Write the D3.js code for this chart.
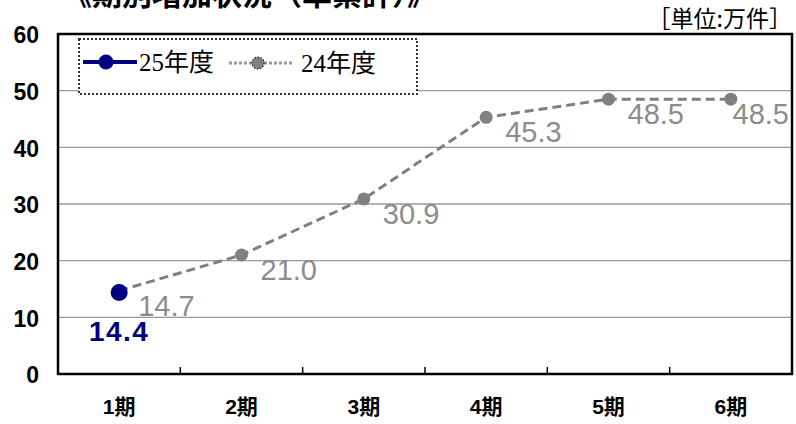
<!DOCTYPE html>
<html>
<head>
<meta charset="utf-8">
<script src="https://cdn.jsdelivr.net/npm/d3@7"></script>
<style>
    body { margin: 0; background: #fff; }
    svg { display: block; }
</style>
</head>
<body>
<svg id="chart" width="796" height="424"></svg>
<script>
const periods = [ '1期', '2期', '3期', '4期', '5期', '6期' ];
const fy25 = [ 14.4 ];
const fy24 = [ 14.7, 21.0, 30.9, 45.3, 48.5, 48.5 ];
const yTicks = [ 0, 10, 20, 30, 40, 50, 60 ];
const titleText = '《期別増加状況（単累計）》';
const unitText = '［単位:万件］';
const legendNames = [ '25年度', '24年度' ];

const navy = '#000080',
    gray = '#808080',
    labelGray = '#8c8c8c';

const svg = d3.select( '#chart' ),
    margin = { top: 34, right: 4, bottom: 50, left: 58 },
    width = 796 - margin.left - margin.right,
    height = 424 - margin.top - margin.bottom;

const x = d3.scaleBand().domain( periods ).range( [ margin.left, margin.left + width ] ),
    y = d3.scaleLinear().domain( [ 0, 60 ] ).range( [ margin.top + height, margin.top ] );

const cx = i => x( periods[ i ] ) + x.bandwidth() / 2;

// title, cut off at top like the original
svg.append( 'text' )
    .attr( 'x', 62 ).attr( 'y', 5 )
    .attr( 'font-family', '"Noto Sans CJK JP", sans-serif' )
    .attr( 'font-weight', 'bold' )
    .attr( 'font-size', 30 )
    .attr( 'fill', '#000' )
    .text( titleText );

svg.append( 'text' )
    .attr( 'x', 792 ).attr( 'y', 27 )
    .attr( 'text-anchor', 'end' )
    .attr( 'font-family', '"Noto Sans CJK JP", sans-serif' )
    .attr( 'font-size', 23 )
    .attr( 'fill', '#000' )
    .text( unitText );

// gridlines
svg.append( 'g' )
    .selectAll( 'line' )
    .data( yTicks.filter( d => d > 0 && d < 60 ) )
    .enter().append( 'line' )
    .attr( 'x1', margin.left ).attr( 'x2', margin.left + width )
    .attr( 'y1', d => y( d ) ).attr( 'y2', d => y( d ) )
    .attr( 'stroke', '#999' ).attr( 'stroke-width', 1.3 );

// y axis
const yAxis = svg.append( 'g' )
    .attr( 'transform', 'translate(' + margin.left + ',0)' )
    .call( d3.axisLeft( y ).tickValues( yTicks ).tickSize( 0 ).tickPadding( 19 ) );
yAxis.select( '.domain' ).remove();
yAxis.selectAll( 'text' )
    .attr( 'font-family', '"Liberation Sans", Arial, sans-serif' )
    .attr( 'font-weight', 'bold' )
    .attr( 'font-size', 23 )
    .attr( 'fill', '#000' )
    .attr( 'dy', '0.38em' );

// x axis labels
const xAxis = svg.append( 'g' )
    .attr( 'transform', 'translate(0,' + ( margin.top + height ) + ')' )
    .call( d3.axisBottom( x ).tickSize( 0 ).tickPadding( 25 ) );
xAxis.select( '.domain' ).remove();
xAxis.selectAll( 'text' )
    .attr( 'font-family', '"Liberation Sans", Arial, "Noto Sans CJK JP", sans-serif' )
    .attr( 'font-weight', 'bold' )
    .attr( 'font-size', 21 )
    .attr( 'fill', '#000' );

// inner ticks between categories
svg.append( 'g' )
    .selectAll( 'line' )
    .data( periods.slice( 1 ) )
    .enter().append( 'line' )
    .attr( 'x1', d => x( d ) ).attr( 'x2', d => x( d ) )
    .attr( 'y1', margin.top + height ).attr( 'y2', margin.top + height - 7 )
    .attr( 'stroke', '#000' ).attr( 'stroke-width', 1.5 );

// plot frame
svg.append( 'rect' )
    .attr( 'x', margin.left ).attr( 'y', margin.top )
    .attr( 'width', width ).attr( 'height', height )
    .attr( 'fill', 'none' )
    .attr( 'stroke', '#000' ).attr( 'stroke-width', 2.5 );

// 24年度 series
const line = d3.line()
    .x( ( d, i ) => cx( i ) )
    .y( d => y( d ) );

svg.append( 'path' )
    .datum( fy24 )
    .attr( 'd', line )
    .attr( 'fill', 'none' )
    .attr( 'stroke', gray )
    .attr( 'stroke-width', 3 )
    .attr( 'stroke-dasharray', '9 5' );

svg.append( 'g' )
    .selectAll( 'circle' )
    .data( fy24 )
    .enter().append( 'circle' )
    .attr( 'cx', ( d, i ) => cx( i ) )
    .attr( 'cy', d => y( d ) )
    .attr( 'r', 6.5 )
    .attr( 'fill', gray );

// labels to the right of the points, kept inside the plot frame
const rightEdge = margin.left + width - 3;
svg.append( 'g' )
    .selectAll( 'text' )
    .data( fy24 )
    .enter().append( 'text' )
    .attr( 'y', d => y( d ) + 15 )
    .attr( 'dominant-baseline', 'central' )
    .attr( 'font-family', '"Liberation Sans", Arial, sans-serif' )
    .attr( 'font-size', 29 )
    .attr( 'fill', labelGray )
    .text( d => d.toFixed( 1 ) )
    .each( function( d, i ) {
        let w = this.getComputedTextLength();
        let tx = Math.min( cx( i ) + 19, rightEdge - w );
        d3.select( this ).attr( 'x', tx );
    } );

// 25年度 series
svg.append( 'g' )
    .selectAll( 'circle' )
    .data( fy25 )
    .enter().append( 'circle' )
    .attr( 'cx', ( d, i ) => cx( i ) )
    .attr( 'cy', d => y( d ) )
    .attr( 'r', 8.5 )
    .attr( 'fill', navy );

svg.append( 'g' )
    .selectAll( 'text' )
    .data( fy25 )
    .enter().append( 'text' )
    .attr( 'x', ( d, i ) => cx( i ) )
    .attr( 'y', d => y( d ) + 39 )
    .attr( 'text-anchor', 'middle' )
    .attr( 'dominant-baseline', 'central' )
    .attr( 'font-family', '"Liberation Sans", Arial, sans-serif' )
    .attr( 'font-weight', 'bold' )
    .attr( 'font-size', 28 )
    .attr( 'letter-spacing', 1.5 )
    .attr( 'fill', navy )
    .text( d => d.toFixed( 1 ) );

// legend
const lg = svg.append( 'g' );
lg.append( 'rect' )
    .attr( 'x', 79 ).attr( 'y', 39 )
    .attr( 'width', 338 ).attr( 'height', 55 )
    .attr( 'fill', '#fff' )
    .attr( 'stroke', '#333' ).attr( 'stroke-width', 2 )
    .attr( 'stroke-dasharray', '2 2' );

lg.append( 'line' )
    .attr( 'x1', 83 ).attr( 'x2', 137 ).attr( 'y1', 62 ).attr( 'y2', 62 )
    .attr( 'stroke', navy ).attr( 'stroke-width', 4 );
lg.append( 'circle' )
    .attr( 'cx', 106 ).attr( 'cy', 62 ).attr( 'r', 7.5 )
    .attr( 'fill', navy );
lg.append( 'text' )
    .attr( 'x', 139 ).attr( 'y', 71 )
    .attr( 'font-family', '"Liberation Serif", "Noto Sans CJK JP", serif' )
    .attr( 'font-size', 25 )
    .attr( 'fill', '#000' )
    .text( legendNames[ 0 ] );

lg.append( 'line' )
    .attr( 'x1', 229 ).attr( 'x2', 293 ).attr( 'y1', 63 ).attr( 'y2', 63 )
    .attr( 'stroke', '#999' ).attr( 'stroke-width', 3 )
    .attr( 'stroke-dasharray', '3 2' );
lg.append( 'circle' )
    .attr( 'cx', 258 ).attr( 'cy', 63 ).attr( 'r', 6 )
    .attr( 'fill', gray )
    .attr( 'stroke', '#222' ).attr( 'stroke-width', 1.2 )
    .attr( 'stroke-dasharray', '1.5 1.5' );
lg.append( 'text' )
    .attr( 'x', 301 ).attr( 'y', 72 )
    .attr( 'font-family', '"Liberation Serif", "Noto Sans CJK JP", serif' )
    .attr( 'font-size', 25 )
    .attr( 'fill', '#000' )
    .text( legendNames[ 1 ] );
</script>
</body>
</html>
